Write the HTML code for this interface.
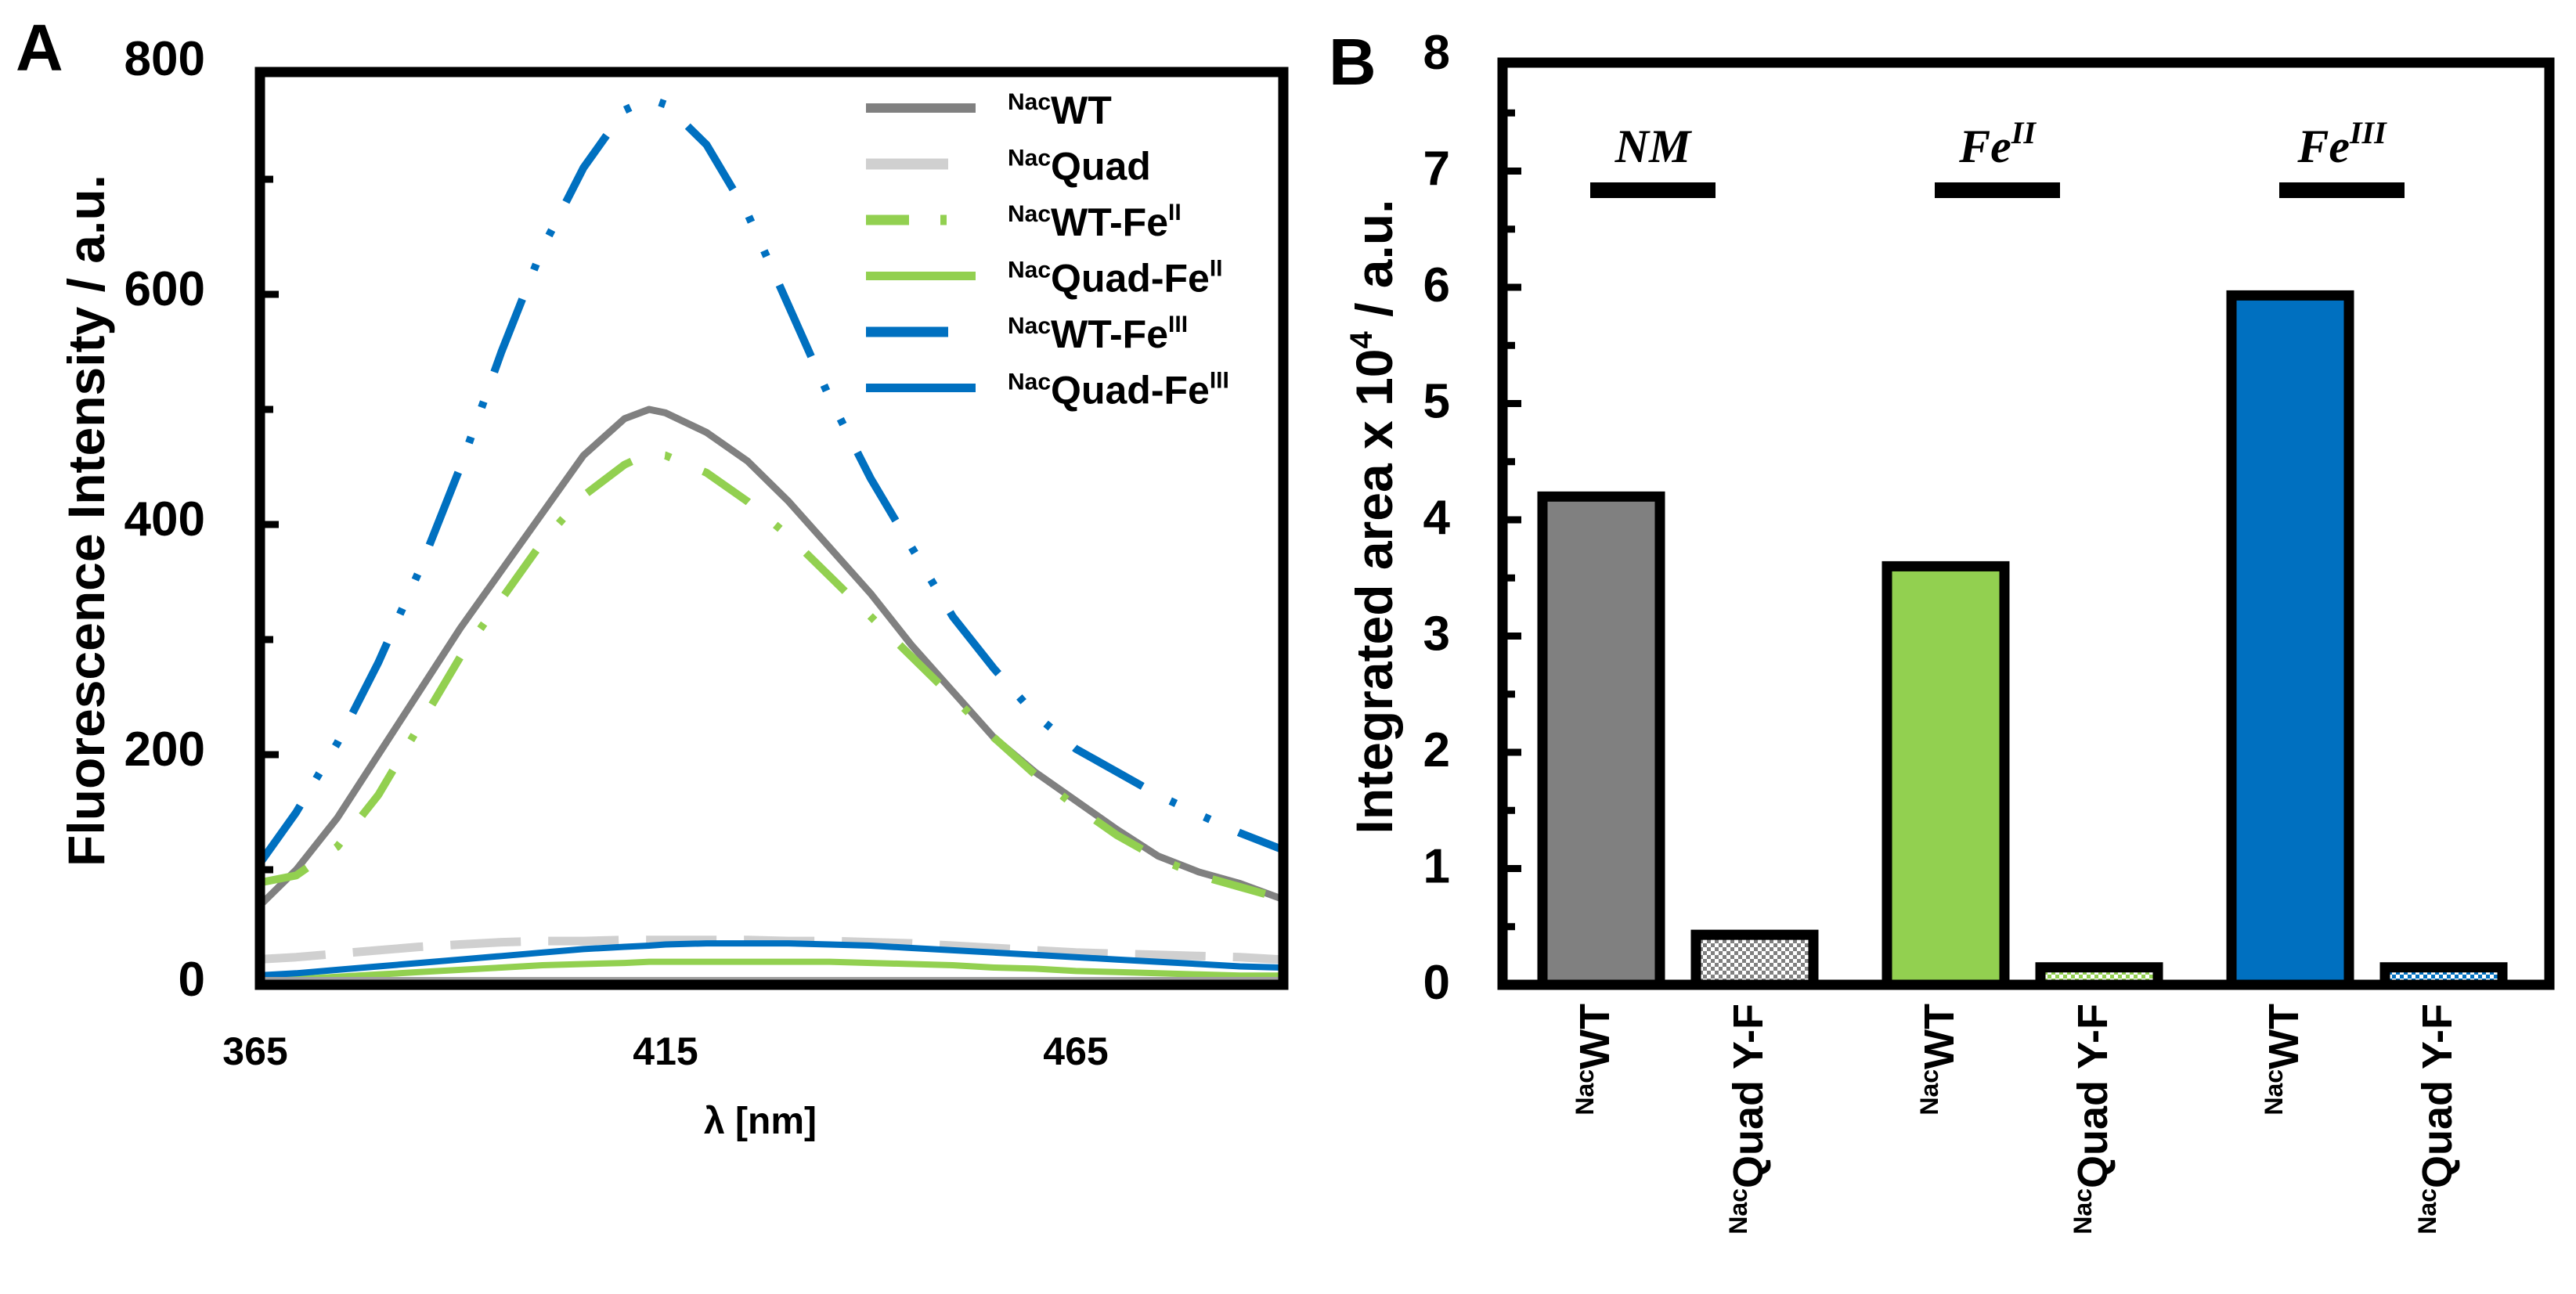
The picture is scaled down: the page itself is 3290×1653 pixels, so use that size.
<!DOCTYPE html>
<html><head><meta charset="utf-8"><style>
html,body{margin:0;padding:0;background:#fff;}
svg{display:block;font-family:"Liberation Sans",Arial,sans-serif;font-weight:bold;}
</style></head><body>
<svg id="fig" width="3290" height="1653" viewBox="0 0 3290 1653" xmlns="http://www.w3.org/2000/svg">
<g id="pa"></g>
<g id="pb"></g>
</svg>
<script>
// ---- Panel A data ----
const wl = [365,370,375,380,385,390,395,400,405,410,413,415,420,425,430,435,440,445,450,455,460,465,470,475,480,485,490];
const wt = [65,100,145,200,255,310,360,410,460,492,500,497,480,455,420,380,340,295,255,215,185,160,135,112,98,88,75];
const quad = [22,24,27,30,33,35,37,38,38,39,39,39,39,39,38,38,37,36,34,32,30,28,27,26,25,24,22];
const wtFe2 = [88,95,120,165,225,285,335,385,425,452,462,460,445,420,390,355,320,285,250,215,183,155,130,110,95,85,75];
const quadFe2 = [3,5,7,9,11,13,15,17,18,19,20,20,20,20,20,20,19,18,17,15,14,12,11,10,9,8,8];
const wtFe3 = [100,150,210,280,360,450,550,640,710,760,770,765,730,670,590,510,440,380,320,275,235,205,185,165,148,132,118];
const quadFe3 = [8,10,13,16,19,22,25,28,31,33,34,35,36,36,36,35,34,32,30,28,26,24,22,20,18,16,15];
const yTicksA = [0,200,400,600,800];
const xTicksA = [365,415,465];
// ---- Panel B data ----
const barLabels = ["WT","Quad Y-F","WT","Quad Y-F","WT","Quad Y-F"];
const barValues = [4.2,0.43,3.6,0.15,5.93,0.15];
const groupLabels = ["NM","Fe","Fe"];
const groupSups = ["","II","III"];
const yTicksB = [0,1,2,3,4,5,6,7,8];

const NS="http://www.w3.org/2000/svg";
function mk(tag,attrs,parent,text){const e=document.createElementNS(NS,tag);for(const k in attrs)e.setAttribute(k,attrs[k]);if(text!==undefined)e.textContent=text;parent.appendChild(e);return e;}

const xA = v => 326 + (v-365)*10.48;
const yA = v => 1258 - v*1.47;
const yB = v => 1258 - v*148.5;

const pa=document.getElementById('pa');
const series=[
 {d:quad,c:'#d0d0d0',w:11,da:'90 35',n:'nacquad-line'},
 {d:quadFe2,c:'#92d050',w:8,da:'',n:'nacquad-fe2-line'},
 {d:quadFe3,c:'#0070c0',w:8,da:'',n:'nacquad-fe3-line'},
 {d:wt,c:'#808080',w:9,da:'',n:'nacwt-line'},
 {d:wtFe2,c:'#92d050',w:10,da:'70 45 8 45',n:'nacwt-fe2-line'},
 {d:wtFe3,c:'#0070c0',w:10,da:'100 40 8 40 8 40',n:'nacwt-fe3-line'}
];
const clip=mk('clipPath',{id:'ca'},pa);mk('rect',{x:332,y:92,width:1307,height:1166},clip);
const cg=mk('g',{'clip-path':'url(#ca)'},pa);


series.forEach(s=>{
 const pts=s.d.map((v,i)=>xA(wl[i]).toFixed(1)+','+yA(v).toFixed(1)).join(' ');
 const p=mk('polyline',{points:pts,fill:'none',stroke:s.c,'stroke-width':s.w,'stroke-dasharray':s.da,'stroke-linejoin':'round'},cg);
 
 
});
const bl=mk('line',{x1:336,x2:1640,y1:1250,y2:1250,stroke:'#a0a0a0','stroke-width':4},pa);


const fa=mk('rect',{x:332,y:92,width:1307,height:1166,fill:'none',stroke:'#000','stroke-width':13},pa);


for(let v=100;v<800;v+=100){
 const t=mk('line',{x1:332,x2:332+(v%200===0?24:17),y1:yA(v),y2:yA(v),stroke:'#000','stroke-width':9},pa);
 
 
}
yTicksA.forEach(v=>{
 const t=mk('text',{x:262,y:yA(v)+14,'text-anchor':'end','font-size':62},pa,String(v));
 
 
});
xTicksA.forEach(v=>{
 const t=mk('text',{x:xA(v),y:1360,'text-anchor':'middle','font-size':50},pa,String(v));
 
 
});
let t=mk('text',{x:971,y:1448,'text-anchor':'middle','font-size':48},pa,'λ [nm]');

t=mk('text',{x:0,y:0,'text-anchor':'middle','font-size':66,transform:'translate(133,665) rotate(-90)'},pa,'Fluorescence Intensity  / a.u.');

t=mk('text',{x:20,y:90,'font-size':84},pa,'A');

const leg=[['WT',''],['Quad',''],['WT-Fe','II'],['Quad-Fe','II'],['WT-Fe','III'],['Quad-Fe','III']];
const legOrder=[3,0,4,1,5,2];
const lg=mk('g',{},pa);


leg.forEach((L,i)=>{
 const s=series[legOrder[i]];const y=138+i*71.5;
 const ln=mk('line',{x1:1106,x2:1246,y1:y,y2:y,stroke:s.c,'stroke-width':s.w+3,'stroke-dasharray':i===2?'55 40 8 40':(i===1||i===4?'105 200':'')},lg);
 
 
 const tx=mk('text',{x:1287,y:y+20,'font-size':50},lg);
 
 
 mk('tspan',{'font-size':30,dy:-18},tx,'Nac');
 mk('tspan',{dy:18},tx,L[0]);
 if(L[1]) mk('tspan',{'font-size':30,dy:-20},tx,L[1]);
});

// ---- Panel B ----
const pb=document.getElementById('pb');
const defs=mk('defs',{},pb);
function pat(id,c){const p=mk('pattern',{id:id,width:10,height:10,patternUnits:'userSpaceOnUse'},defs);mk('rect',{width:10,height:10,fill:'#fff'},p);mk('rect',{width:5,height:5,fill:c},p);mk('rect',{x:5,y:5,width:5,height:5,fill:c},p);}
pat('pg','#808080');pat('pgr','#92d050');pat('pbl','#0070c0');
const fills=['#808080','url(#pg)','#92d050','url(#pgr)','#0070c0','url(#pbl)'];
const barX0=1964, barW=162, groupStep=440, pairStep=196;
const xB = i => barX0 + Math.floor(i/2)*groupStep + (i%2)*pairStep;
barValues.forEach((v,i)=>{
 const r=mk('rect',{x:xB(i)+6,y:yB(v),width:barW-12,height:1258-yB(v),fill:fills[i],stroke:'#000','stroke-width':13},pb);
 
 
 const lx=xB(i)+barW/2+10;
 const tx=mk('text',{x:0,y:0,'text-anchor':'end','font-size':54,transform:`translate(${lx},1282) rotate(-90)`},pb);
 
 
 mk('tspan',{'font-size':32,dy:-20},tx,'Nac');
 mk('tspan',{dy:20},tx,barLabels[i]);
});
const fb=mk('rect',{x:1919,y:80,width:1337,height:1178,fill:'none',stroke:'#000','stroke-width':13},pb);


for(let k=1;k<16;k++){
 const v=k/2;
 const tk=mk('line',{x1:1919,x2:1919+(k%2===0?24:16),y1:yB(v),y2:yB(v),stroke:'#000','stroke-width':9},pb);
 
 
}
yTicksB.forEach(v=>{
 const tx=mk('text',{x:1852,y:yB(v)+18,'text-anchor':'end','font-size':62},pb,String(v));
 
 
});
groupLabels.forEach((g,i)=>{
 const cx=xB(i*2)+barW-15;
 const bar=mk('rect',{x:cx-80,y:233,width:160,height:20,fill:'#000'},pb);
 
 
 const tx=mk('text',{x:cx,y:207,'text-anchor':'middle','font-size':60,'font-style':'italic','font-family':'Liberation Serif, serif'},pb);
 
 
 mk('tspan',{},tx,g);
 if(groupSups[i]) mk('tspan',{'font-size':40,dy:-24},tx,groupSups[i]);
});
t=mk('text',{x:0,y:0,'text-anchor':'middle','font-size':66,transform:'translate(1778,660) rotate(-90)'},pb);

mk('tspan',{},t,'Integrated area x 10');mk('tspan',{'font-size':40,dy:-26},t,'4');mk('tspan',{dy:26},t,'  / a.u.');
t=mk('text',{x:1697,y:108,'font-size':84},pb,'B');

</script>
</body></html>
